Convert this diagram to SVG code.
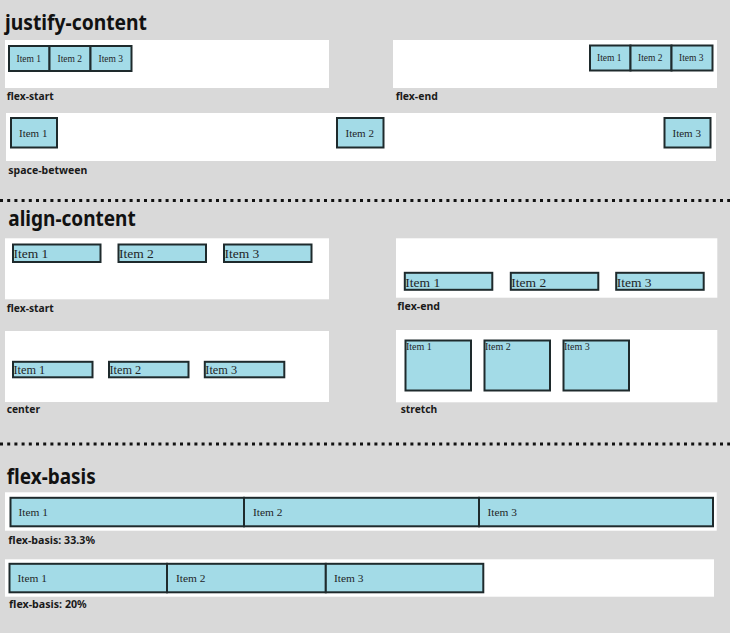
<svg xmlns="http://www.w3.org/2000/svg" width="730" height="633" viewBox="0 0 730 633">
<style>
.bg{fill:#d9d9d9}
.panel{fill:#ffffff}
.item{fill:#a3dbe7;stroke:#1e2a2c;stroke-width:2}
.it{font-family:"Liberation Serif","Times New Roman",serif;fill:#1f2628}
.ttl{font-family:"Noto Sans","Liberation Sans",sans-serif;font-weight:700;fill:#111;font-size:21px}
.lbl{font-family:"Noto Sans","Liberation Sans",sans-serif;font-weight:700;fill:#1a1a1a;font-size:10.5px}
.dots{stroke:#111;stroke-width:3;stroke-dasharray:3 4.2;fill:none}
</style>
<rect class="bg" x="0" y="0" width="730" height="633"/>

<g id="section-justify">
<text class="ttl" x="5" y="29.5" textLength="142" lengthAdjust="spacingAndGlyphs">justify-content</text>

<g id="jc-flex-start">
<rect class="panel" x="5" y="40" width="324" height="48"/>
<rect class="item" x="9" y="46" width="40.5" height="25"/>
<rect class="item" x="49.5" y="46" width="41" height="25"/>
<rect class="item" x="90.5" y="46" width="41" height="25"/>
<text class="it" font-size="9.5" x="16.5" y="61.5">Item 1</text>
<text class="it" font-size="9.5" x="57.5" y="61.5">Item 2</text>
<text class="it" font-size="9.5" x="98.5" y="61.5">Item 3</text>
<text class="lbl" x="6.7" y="99.5" textLength="47" lengthAdjust="spacingAndGlyphs">flex-start</text>
</g>

<g id="jc-flex-end">
<rect class="panel" x="393" y="40" width="324" height="48"/>
<rect class="item" x="590" y="45.5" width="40.5" height="25"/>
<rect class="item" x="630.5" y="45.5" width="41" height="25"/>
<rect class="item" x="671.5" y="45.5" width="41" height="25"/>
<text class="it" font-size="9.5" x="597" y="61">Item 1</text>
<text class="it" font-size="9.5" x="638" y="61">Item 2</text>
<text class="it" font-size="9.5" x="679" y="61">Item 3</text>
<text class="lbl" x="395.7" y="99.5" textLength="42" lengthAdjust="spacingAndGlyphs">flex-end</text>
</g>

<g id="jc-space-between">
<rect class="panel" x="6" y="113" width="710" height="48"/>
<rect class="item" x="11" y="118" width="46" height="29.5"/>
<rect class="item" x="337" y="118" width="46.5" height="29.5"/>
<rect class="item" x="664.5" y="118" width="46" height="29.5"/>
<text class="it" font-size="11" x="19" y="136.5">Item 1</text>
<text class="it" font-size="11" x="345.5" y="136.5">Item 2</text>
<text class="it" font-size="11" x="672.5" y="136.5">Item 3</text>
<text class="lbl" x="8.3" y="173.5" textLength="79" lengthAdjust="spacingAndGlyphs">space-between</text>
</g>
</g>

<line class="dots" x1="0" y1="200.5" x2="730" y2="200.5"/>

<g id="section-align">
<text class="ttl" x="8.3" y="226" textLength="127.4" lengthAdjust="spacingAndGlyphs">align-content</text>

<g id="ac-flex-start">
<rect class="panel" x="5" y="238.3" width="324" height="61"/>
<rect class="item" x="13" y="244.5" width="87.5" height="17.5"/>
<rect class="item" x="118.5" y="244.5" width="87.5" height="17.5"/>
<rect class="item" x="224" y="244.5" width="87.5" height="17.5"/>
<text class="it" font-size="13.5" x="13.5" y="258">Item 1</text>
<text class="it" font-size="13.5" x="119" y="258">Item 2</text>
<text class="it" font-size="13.5" x="224.5" y="258">Item 3</text>
<text class="lbl" x="6.7" y="312" textLength="47" lengthAdjust="spacingAndGlyphs">flex-start</text>
</g>

<g id="ac-flex-end">
<rect class="panel" x="396" y="238.3" width="321.3" height="59.4"/>
<rect class="item" x="404.8" y="272.8" width="87.5" height="17"/>
<rect class="item" x="510.8" y="272.8" width="87.5" height="17"/>
<rect class="item" x="616.2" y="272.8" width="87.5" height="17"/>
<text class="it" font-size="13.5" x="405.3" y="286.5">Item 1</text>
<text class="it" font-size="13.5" x="511.3" y="286.5">Item 2</text>
<text class="it" font-size="13.5" x="616.7" y="286.5">Item 3</text>
<text class="lbl" x="397.3" y="309.5" textLength="42.7" lengthAdjust="spacingAndGlyphs">flex-end</text>
</g>

<g id="ac-center">
<rect class="panel" x="5" y="331" width="324" height="71"/>
<rect class="item" x="13" y="361.8" width="79.5" height="15.5"/>
<rect class="item" x="109" y="361.8" width="79.5" height="15.5"/>
<rect class="item" x="204.8" y="361.8" width="79.5" height="15.5"/>
<text class="it" font-size="12.3" x="13.5" y="373.8">Item 1</text>
<text class="it" font-size="12.3" x="109.5" y="373.8">Item 2</text>
<text class="it" font-size="12.3" x="205.3" y="373.8">Item 3</text>
<text class="lbl" x="6.7" y="413" textLength="33.3" lengthAdjust="spacingAndGlyphs">center</text>
</g>

<g id="ac-stretch">
<rect class="panel" x="396" y="330" width="321.3" height="72.3"/>
<rect class="item" x="405.5" y="340.5" width="65.5" height="50"/>
<rect class="item" x="484.5" y="340.5" width="65.5" height="50"/>
<rect class="item" x="563.5" y="340.5" width="65.5" height="50"/>
<text class="it" font-size="10" x="406" y="349.5">Item 1</text>
<text class="it" font-size="10" x="485" y="349.5">Item 2</text>
<text class="it" font-size="10" x="564" y="349.5">Item 3</text>
<text class="lbl" x="400.7" y="413" textLength="36.6" lengthAdjust="spacingAndGlyphs">stretch</text>
</g>
</g>

<line class="dots" x1="0" y1="444" x2="730" y2="444"/>

<g id="section-basis">
<text class="ttl" x="6.7" y="484.3" textLength="89" lengthAdjust="spacingAndGlyphs">flex-basis</text>

<g id="fb-33">
<rect class="panel" x="5" y="492.3" width="711.7" height="38.4"/>
<rect class="item" x="10.5" y="497.8" width="233.5" height="28.5"/>
<rect class="item" x="244" y="497.8" width="235" height="28.5"/>
<rect class="item" x="479" y="497.8" width="234" height="28.5"/>
<text class="it" font-size="11.4" x="18.5" y="515.5">Item 1</text>
<text class="it" font-size="11.4" x="253" y="515.5">Item 2</text>
<text class="it" font-size="11.4" x="487.5" y="515.5">Item 3</text>
<text class="lbl" x="8.3" y="544.3" textLength="86.7" lengthAdjust="spacingAndGlyphs">flex-basis: 33.3%</text>
</g>

<g id="fb-20">
<rect class="panel" x="5" y="559.3" width="709" height="37.4"/>
<rect class="item" x="9.5" y="563.8" width="157.5" height="28.5"/>
<rect class="item" x="167" y="563.8" width="158.8" height="28.5"/>
<rect class="item" x="325.8" y="563.8" width="157.5" height="28.5"/>
<text class="it" font-size="11.4" x="17.5" y="581.5">Item 1</text>
<text class="it" font-size="11.4" x="176" y="581.5">Item 2</text>
<text class="it" font-size="11.4" x="334" y="581.5">Item 3</text>
<text class="lbl" x="9" y="608.3" textLength="77.7" lengthAdjust="spacingAndGlyphs">flex-basis: 20%</text>
</g>
</g>
</svg>
